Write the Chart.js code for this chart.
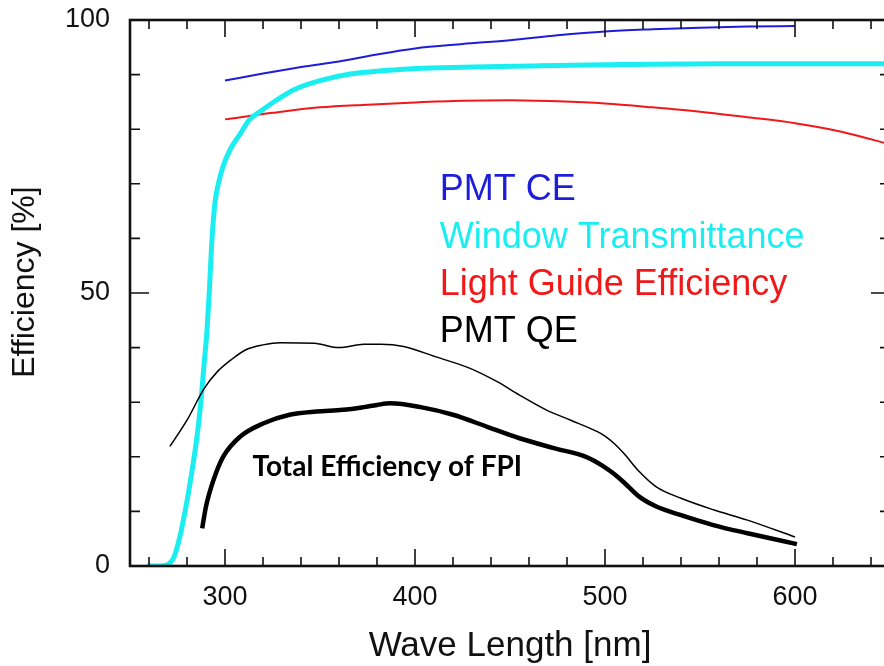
<!DOCTYPE html>
<html>
<head>
<meta charset="utf-8">
<script src="https://cdn.jsdelivr.net/npm/chart.js@4.4.1/dist/chart.umd.min.js"></script>
<style>
  html, body { margin: 0; padding: 0; background: #fff; overflow: hidden; }
  #chart_wrap { width: 892px; height: 666px; }
</style>
</head>
<body>
<div id="chart_wrap"><canvas id="efficiency_chart"></canvas></div>
<script>
// Values: wavelength [nm] and efficiency [%]
const pmtCeNm = [300, 320, 340, 360, 380, 400, 425, 450, 475, 500, 525, 550, 575, 600];
const pmtCeVal = [88.9, 90.2, 91.4, 92.4, 93.7, 94.8, 95.6, 96.3, 97.2, 97.9, 98.3, 98.6, 98.8, 98.9];

const windowNm = [259, 265, 270, 273, 276, 279, 282, 285, 287, 289, 290.5, 291.7, 293, 294.7, 296.5, 298.8, 302.6, 307.9, 312.8, 320, 327, 336, 350, 366, 400, 466, 500, 560, 650];
const windowVal = [0, 0, 0.3, 1.5, 5, 10, 16, 23, 29, 37, 43, 50, 59, 66.5, 70, 73, 76.2, 79.1, 81.7, 83.6, 85.3, 87.2, 88.9, 90.1, 91.1, 91.6, 91.8, 92, 92];

const guideNm = [300, 325, 350, 375, 400, 425, 450, 475, 500, 525, 550, 575, 600, 625, 650];
const guideVal = [81.8, 83.0, 84.0, 84.5, 84.9, 85.2, 85.3, 85.1, 84.7, 84.0, 83.2, 82.2, 81.1, 79.5, 77.2];

const pmtQeNm = [271, 280, 289, 296, 303, 311, 320, 329, 347, 360, 373, 382, 394, 411, 429, 443, 455, 469, 482, 496, 500, 505, 510, 518, 527, 540, 557, 575, 600];
const pmtQeVal = [21.9, 26.7, 32.5, 35.6, 37.7, 39.6, 40.5, 40.9, 40.8, 40.0, 40.6, 40.6, 40.2, 38.3, 36.2, 33.8, 31.3, 28.6, 26.7, 24.6, 23.8, 22.4, 20.6, 17.3, 14.5, 12.4, 10.3, 8.4, 5.3];

const totalNm = [288, 290, 294, 299, 308, 320, 334, 348, 362, 373, 380, 387, 403, 420, 438, 455, 473, 490, 499, 505, 510, 518, 527, 540, 557, 575, 601];
const totalVal = [6.9, 10.9, 15.8, 20, 23.7, 26.1, 27.7, 28.3, 28.6, 29.1, 29.5, 29.8, 29.1, 27.7, 25.5, 23.4, 21.6, 20.0, 18.3, 16.8, 15.3, 12.7, 10.9, 9.3, 7.5, 6.0, 4.0];

// Tick positions: every 20 nm (labels at 300..600), every 10 % (labels at 0, 50, 100)
const xTickNm = [260, 280, 300, 320, 340, 360, 380, 400, 420, 440, 460, 480, 500, 520, 540, 560, 580, 600, 620, 640];
const xLabelNm = [300, 400, 500, 600];
const yLabelPct = [0, 50, 100];

const BLUE = '#1e1ed8';
const CYAN = '#1aeef0';
const RED = '#f01818';
const BLACK = '#000000';
const SANS = '"Liberation Sans", Arial, sans-serif';

function toPoints(xs, ys) {
    return xs.map(function(x, i) { return { x: x, y: ys[i] }; });
}

function curve(label, xs, ys, color, width) {
    return {
        label: label,
        data: toPoints(xs, ys),
        borderColor: color,
        borderWidth: width,
        pointRadius: 0,
        fill: false,
        cubicInterpolationMode: 'monotone'
    };
}

// Text labels placed inside the plot (anchor = left end of baseline, in data units)
const notes = [
    { text: 'PMT CE', color: BLUE, nm: 413, pct: 67.0, font: '36px ' + SANS },
    { text: 'Window Transmittance', color: CYAN, nm: 413, pct: 58.2, font: '36px ' + SANS },
    { text: 'Light Guide Efficiency', color: RED, nm: 413, pct: 49.6, font: '36px ' + SANS },
    { text: 'PMT QE', color: BLACK, nm: 413, pct: 41.0, font: '36px ' + SANS },
    { text: 'Total Efficiency of FPI', color: BLACK, nm: 314.5, pct: 16.5, font: 'bold 28px Lato, "Open Sans", sans-serif' }
];

// Frame, inward tick marks on all four sides, y title and the in-plot labels
const framePlugin = {
    id: 'frame',
    afterDraw: function(chart) {
        const ctx = chart.ctx;
        const area = chart.chartArea;
        const xs = chart.scales.x;
        const ys = chart.scales.y;
        ctx.save();
        ctx.strokeStyle = '#111';
        ctx.lineWidth = 1.6;
        ctx.beginPath();
        xs.ticks.forEach(function(t) {
            const len = xLabelNm.indexOf(t.value) >= 0 ? 17 : 9;
            const px = xs.getPixelForValue(t.value);
            ctx.moveTo(px, area.bottom);
            ctx.lineTo(px, area.bottom - len);
            ctx.moveTo(px, area.top);
            ctx.lineTo(px, area.top + len);
        });
        ys.ticks.forEach(function(t) {
            const len = yLabelPct.indexOf(t.value) >= 0 ? 19 : 10;
            const py = ys.getPixelForValue(t.value);
            ctx.moveTo(area.left, py);
            ctx.lineTo(area.left + len, py);
            ctx.moveTo(area.right, py);
            ctx.lineTo(area.right - len, py);
        });
        ctx.stroke();
        ctx.lineWidth = 2.6;
        ctx.strokeRect(area.left, area.top, area.right - area.left, area.bottom - area.top);

        ctx.textBaseline = 'alphabetic';
        ctx.textAlign = 'left';
        notes.forEach(function(n) {
            ctx.font = n.font;
            ctx.fillStyle = n.color;
            ctx.fillText(n.text, xs.getPixelForValue(n.nm), ys.getPixelForValue(n.pct));
        });

        // y axis title, rotated
        ctx.translate(34, ys.getPixelForValue(52));
        ctx.rotate(-Math.PI / 2);
        ctx.textAlign = 'center';
        ctx.fillStyle = '#111';
        ctx.font = '32px ' + SANS;
        ctx.fillText('Efficiency [%]', 0, 0);
        ctx.restore();
    }
};

const tickFont = { family: SANS, size: 27 };

new Chart(document.getElementById('efficiency_chart').getContext('2d'), {
    type: 'line',
    data: {
        datasets: [
            curve('Total Efficiency of FPI', totalNm, totalVal, BLACK, 4.5),
            curve('PMT QE', pmtQeNm, pmtQeVal, BLACK, 1.5),
            curve('Window Transmittance', windowNm, windowVal, CYAN, 5),
            curve('PMT CE', pmtCeNm, pmtCeVal, BLUE, 2),
            curve('Light Guide Efficiency', guideNm, guideVal, RED, 2)
        ]
    },
    options: {
        responsive: true,
        maintainAspectRatio: false,
        animation: false,
        layout: { padding: { top: 20, right: 2, left: 0, bottom: 0 } },
        plugins: {
            legend: { display: false },
            tooltip: { enabled: false }
        },
        scales: {
            x: {
                type: 'linear',
                min: 250,
                max: 650,
                afterBuildTicks: function(scale) {
                    scale.ticks = xTickNm.map(function(v) { return { value: v }; });
                },
                grid: { display: false, drawTicks: true, tickLength: 15 },
                border: { display: false },
                ticks: {
                    autoSkip: false,
                    maxRotation: 0,
                    padding: 0,
                    color: '#111',
                    font: tickFont,
                    callback: function(v) { return xLabelNm.indexOf(v) >= 0 ? v : ''; }
                },
                title: {
                    display: true,
                    text: 'Wave Length [nm]',
                    color: '#111',
                    font: { family: SANS, size: 35, lineHeight: 1 },
                    padding: { top: 0, bottom: 2 }
                },
                afterFit: function(scale) { scale.height = 100; }
            },
            y: {
                min: 0,
                max: 100,
                grid: { display: false, drawTicks: true, tickLength: 20 },
                border: { display: false },
                ticks: {
                    stepSize: 10,
                    autoSkip: false,
                    padding: 0,
                    color: '#111',
                    font: tickFont,
                    callback: function(v) { return yLabelPct.indexOf(v) >= 0 ? v : ''; }
                },
                afterFit: function(scale) { scale.width = 130; }
            }
        }
    },
    plugins: [framePlugin]
});
</script>
</body>
</html>
